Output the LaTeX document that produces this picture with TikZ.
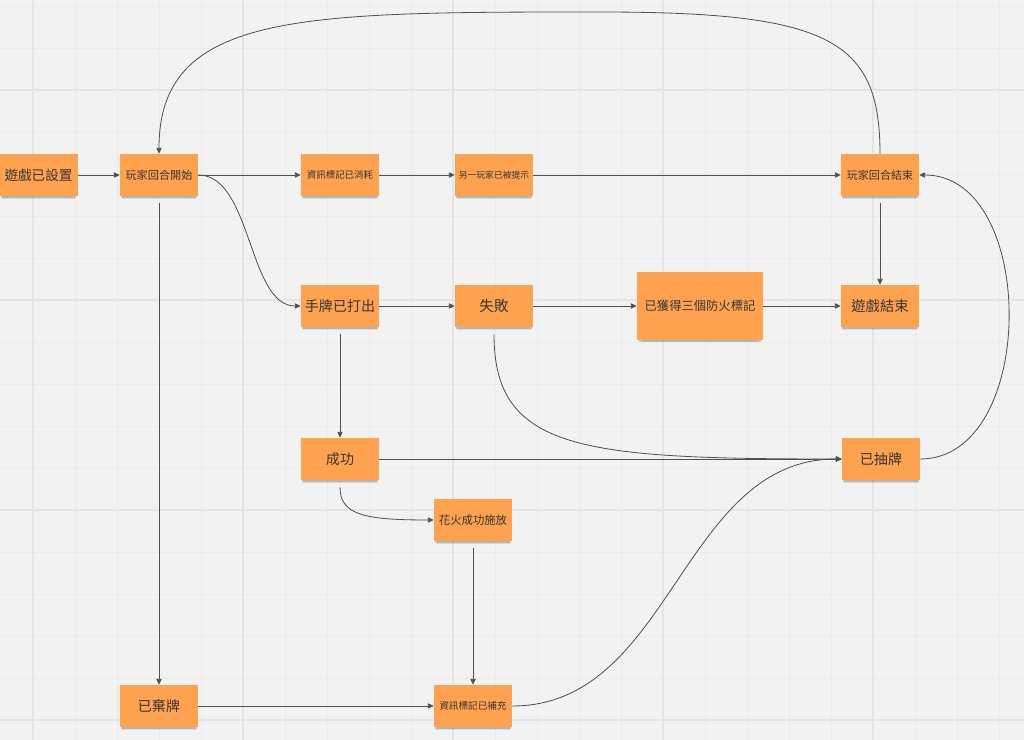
\documentclass[tikz,border=0pt]{standalone}
\usepackage{fontspec}
\setmainfont{Noto Sans CJK TC}
\usepackage{tikz}
\usepackage{xcolor}
\usetikzlibrary{shapes.geometric, arrows.meta, shadows}
\definecolor{board}{HTML}{F2F2F2}
\definecolor{gridminor}{HTML}{EBEBEB}
\definecolor{gridmajor}{HTML}{E4E4E4}
\definecolor{sticky}{HTML}{FFA24F}
\definecolor{ink}{HTML}{363636}
\definecolor{wire}{HTML}{505050}
\tikzstyle{note} = [rectangle,
minimum width=2.34cm,
minimum height=1.26cm,
inner sep=0pt,
text centered,
text=ink,
fill=sticky,
drop shadow={shadow xshift=0pt, shadow yshift=-4pt, shadow scale=0.94, fill=black, opacity=0.10},
drop shadow={shadow xshift=0pt, shadow yshift=-2.5pt, shadow scale=0.97, fill=black, opacity=0.16}]
\tikzstyle{bignote} = [note, minimum width=3.78cm, minimum height=2.04cm]
\tikzstyle{arrow} = [line width=0.7pt, draw=wire, -{Triangle[length=5pt,width=4.5pt]}]
\tikzstyle{arrowgap} = [arrow, shorten <=6pt]
\begin{document}
\begin{tikzpicture}[x=0.03cm, y=-0.03cm]
        \useasboundingbox (0,0) rectangle (1024,740);
        % board with grid
        \fill [board] (0,0) rectangle (1024,740);
        \foreach \x in {33,75,...,1023} \draw [gridminor, line width=0.6pt] (\x,0) -- (\x,740);
        \foreach \y in {6,48,...,740} \draw [gridminor, line width=0.6pt] (0,\y) -- (1024,\y);
        \foreach \x in {33,243,...,1023} \draw [gridmajor, line width=1pt] (\x,0) -- (\x,740);
        \foreach \y in {90,300,...,740} \draw [gridmajor, line width=1pt] (0,\y) -- (1024,\y);
        % sticky notes
        \node (set) [note, font=\fontsize{11.6pt}{13pt}\selectfont] at (38.5,175) {遊戲已設置};
        \node (start) [note, font=\fontsize{9.5pt}{11pt}\selectfont] at (159,175) {玩家回合開始};
        \node (used) [note, font=\fontsize{8.1pt}{10pt}\selectfont] at (340,175) {資訊標記已消耗};
        \node (hint) [note, font=\fontsize{7.5pt}{9pt}\selectfont] at (494,175) {另一玩家已被提示};
        \node (endturn) [note, font=\fontsize{9.4pt}{11pt}\selectfont] at (880,175) {玩家回合結束};
        \node (played) [note, font=\fontsize{12pt}{14pt}\selectfont] at (340,306) {手牌已打出};
        \node (fail) [note, font=\fontsize{12.5pt}{14pt}\selectfont] at (494,306) {失敗};
        \node (fuses) [bignote, font=\fontsize{10.5pt}{12pt}\selectfont] at (700,306) {已獲得三個防火標記};
        \node (gameover) [note, font=\fontsize{12.2pt}{14pt}\selectfont] at (880,306) {遊戲結束};
        \node (success) [note, font=\fontsize{12pt}{14pt}\selectfont] at (340,459) {成功};
        \node (drawn) [note, font=\fontsize{12pt}{14pt}\selectfont] at (881,459) {已抽牌};
        \node (firework) [note, font=\fontsize{9.7pt}{11pt}\selectfont] at (473,520) {花火成功施放};
        \node (discard) [note, font=\fontsize{12pt}{14pt}\selectfont] at (159,706) {已棄牌};
        \node (refill) [note, font=\fontsize{8.2pt}{10pt}\selectfont] at (473,706) {資訊標記已補充};
        % straight connectors
        \draw [arrow] (set) -- (start);
        \draw [arrow] (start) -- (used);
        \draw [arrow] (used) -- (hint);
        \draw [arrow] (hint) -- (endturn);
        \draw [arrowgap] (endturn) -- (gameover);
        \draw [arrowgap] (start) -- (discard);
        \draw [arrow] (played) -- (fail);
        \draw [arrow] (fail) -- (fuses);
        \draw [arrow] (fuses) -- (gameover);
        \draw [arrowgap] (played) -- (success);
        \draw [arrow] (success) -- (drawn);
        \draw [arrowgap] (firework) -- (refill);
        \draw [arrow] (discard) -- (refill);
        % curved connectors
        \draw [arrow] (endturn.north) .. controls (880,40) and (830,12) .. (600,12)
            .. controls (300,12) and (159,12) .. (start.north);
        \draw [arrow] (start.east) .. controls (252,175) and (248,306) .. (played.west);
        \draw [arrowgap] (fail.south) .. controls (494,450) and (580,459) .. (drawn.west);
        \draw [arrow] (refill.east) .. controls (672,706) and (681,459) .. (drawn.west);
        \draw [arrowgap] (success.south) .. controls (340,515) and (365,520) .. (firework.west);
        \draw [arrow] (drawn.east) .. controls (1038,459) and (1038,175) .. (endturn.east);
    \end{tikzpicture}
\end{document}
